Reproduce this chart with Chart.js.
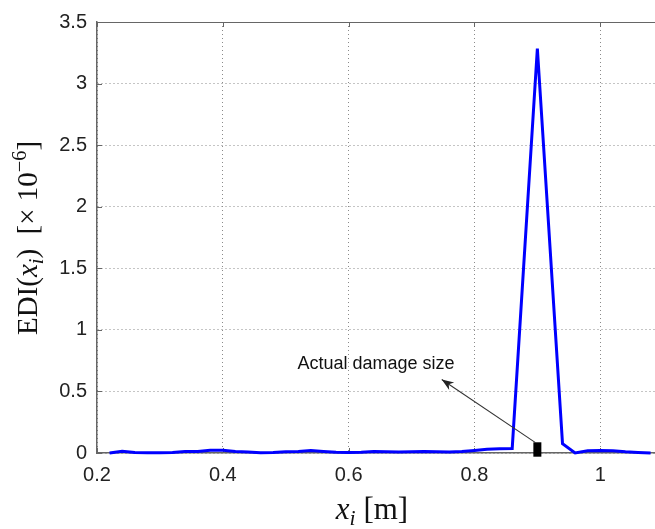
<!DOCTYPE html>
<html>
<head>
<meta charset="utf-8">
<script src="https://cdn.jsdelivr.net/npm/chart.js@4.4.1/dist/chart.umd.min.js"></script>
<style>
  html, body { margin: 0; padding: 0; background: #fff; }
  #wrap { width: 655px; height: 529px; }
</style>
</head>
<body>
<div id="wrap"><canvas id="graf" width="655" height="529"></canvas></div>
<script>
// --- DATOS ---
const posX = [0.22, 0.24, 0.26, 0.28, 0.30, 0.32, 0.34, 0.36, 0.38, 0.40,
              0.42, 0.44, 0.46, 0.48, 0.50, 0.52, 0.54, 0.56, 0.58, 0.60,
              0.62, 0.64, 0.66, 0.68, 0.70, 0.72, 0.74, 0.76, 0.78, 0.80,
              0.82, 0.84, 0.86, 0.90, 0.94, 0.96, 0.98, 1.00, 1.02, 1.04,
              1.06, 1.08];
const ediVal = [0.000, 0.015, 0.005, 0.003, 0.003, 0.005, 0.012, 0.012, 0.022, 0.022,
                0.012, 0.008, 0.003, 0.004, 0.010, 0.012, 0.020, 0.012, 0.006, 0.005,
                0.006, 0.012, 0.010, 0.008, 0.010, 0.012, 0.010, 0.008, 0.012, 0.020,
                0.030, 0.035, 0.036, 3.285, 0.075, 0.000, 0.018, 0.020, 0.018, 0.010,
                0.005, 0.000];

// marcador del dano real
const damageX = [0.9, 0.9];
const damageY = [-0.03, 0.087];

// anotacion (coordenadas en datos)
const annText = "Actual damage size";
const annTextPos = [0.6436, 0.725];
const arrowTail = [0.897, 0.084];
const arrowHead = [0.748, 0.597];

// ticks
const xTicks = [0.2, 0.4, 0.6, 0.8, 1.0];
const xTickLabels = ["0.2", "0.4", "0.6", "0.8", "1"];
const yTicks = [0, 0.5, 1, 1.5, 2, 2.5, 3, 3.5];
const yTickLabels = ["0", "0.5", "1", "1.5", "2", "2.5", "3", "3.5"];

const xMin = 0.2, xMax = 1.087;
const yMin = 0, yMax = 3.5;

// --- PLUGIN: caja, ticks interiores, titulos y anotacion ---
const extras = {
    id: "extras",
    beforeDatasetsDraw(chart) {
        const { ctx, chartArea: a, scales } = chart;
        ctx.save();
        ctx.strokeStyle = "#666";
        ctx.lineWidth = 1;
        ctx.beginPath();
        ctx.moveTo(a.left, a.top + 0.5);
        ctx.lineTo(a.right, a.top + 0.5);
        // ticks interiores
        const tl = 5;
        xTicks.forEach(v => {
            const px = Math.round(scales.x.getPixelForValue(v)) + 0.5;
            ctx.moveTo(px, a.bottom); ctx.lineTo(px, a.bottom - tl);
            ctx.moveTo(px, a.top); ctx.lineTo(px, a.top + tl);
        });
        yTicks.forEach(v => {
            const py = Math.round(scales.y.getPixelForValue(v)) + 0.5;
            ctx.moveTo(a.left, py); ctx.lineTo(a.left + tl, py);
        });
        ctx.stroke();
        ctx.restore();
    },
    afterDraw(chart) {
        const { ctx, scales } = chart;
        const sx = scales.x, sy = scales.y;
        ctx.save();

        // flecha
        const x1 = sx.getPixelForValue(arrowTail[0]), y1 = sy.getPixelForValue(arrowTail[1]);
        const x2 = sx.getPixelForValue(arrowHead[0]), y2 = sy.getPixelForValue(arrowHead[1]);
        ctx.strokeStyle = "#333";
        ctx.fillStyle = "#222";
        ctx.lineWidth = 1.1;
        ctx.beginPath();
        ctx.moveTo(x1, y1);
        ctx.lineTo(x2, y2);
        ctx.stroke();
        const ang = Math.atan2(y2 - y1, x2 - x1);
        const hl = 12, hw = 4.5;
        ctx.beginPath();
        ctx.moveTo(x2, y2);
        ctx.lineTo(x2 - hl * Math.cos(ang) + hw * Math.sin(ang), y2 - hl * Math.sin(ang) - hw * Math.cos(ang));
        ctx.lineTo(x2 - hl * 0.7 * Math.cos(ang), y2 - hl * 0.7 * Math.sin(ang));
        ctx.lineTo(x2 - hl * Math.cos(ang) - hw * Math.sin(ang), y2 - hl * Math.sin(ang) + hw * Math.cos(ang));
        ctx.closePath();
        ctx.fill();

        // texto anotacion
        ctx.fillStyle = "#111";
        ctx.font = "18px 'Liberation Sans', Arial, sans-serif";
        ctx.textAlign = "center";
        ctx.textBaseline = "middle";
        ctx.fillText(annText, sx.getPixelForValue(annTextPos[0]), sy.getPixelForValue(annTextPos[1]));

        // titulos con sub/superindices
        function drawRich(parts, size) {
            let w = 0;
            parts.forEach(p => {
                ctx.font = (p.it ? "italic " : "") + (p.s || 1) * size + "px 'Liberation Serif', 'Times New Roman', serif";
                p.w = ctx.measureText(p.t).width;
                w += p.w;
            });
            let x = -w / 2;
            parts.forEach(p => {
                ctx.font = (p.it ? "italic " : "") + (p.s || 1) * size + "px 'Liberation Serif', 'Times New Roman', serif";
                ctx.fillText(p.t, x, p.dy || 0);
                x += p.w;
            });
        }
        ctx.fillStyle = "#111";
        ctx.textAlign = "left";
        ctx.textBaseline = "alphabetic";

        // eje x
        ctx.save();
        ctx.translate(372, 519);
        drawRich([
            { t: "x", it: true },
            { t: "i", it: true, s: 0.7, dy: 6 },
            { t: " [m]" }
        ], 31);
        ctx.restore();

        // eje y
        ctx.save();
        ctx.translate(37, 238);
        ctx.rotate(-Math.PI / 2);
        drawRich([
            { t: "EDI(" },
            { t: "x", it: true },
            { t: "i", it: true, s: 0.7, dy: 6 },
            { t: ")  [× 10" },
            { t: "−6", s: 0.7, dy: -11 },
            { t: "]" }
        ], 29);
        ctx.restore();

        ctx.restore();
    }
};

new Chart(document.getElementById("graf"), {
    type: "scatter",
    data: {
        datasets: [{
            label: "EDI",
            data: posX.map((x, i) => ({ x: x, y: ediVal[i] })),
            showLine: true,
            borderColor: "#0000ff",
            borderWidth: 3,
            pointRadius: 0,
            tension: 0,
            clip: false
        }, {
            label: "damage",
            data: damageX.map((x, i) => ({ x: x, y: damageY[i] })),
            showLine: true,
            borderColor: "#000",
            borderWidth: 8,
            borderCapStyle: "butt",
            pointRadius: 0,
            clip: false
        }]
    },
    options: {
        responsive: false,
        animation: false,
        layout: { padding: { top: 15, right: 0, left: 0, bottom: 0 } },
        plugins: {
            legend: { display: false },
            tooltip: { enabled: false }
        },
        scales: {
            x: {
                type: "linear",
                min: xMin,
                max: xMax,
                afterBuildTicks: s => { s.ticks = xTicks.map(v => ({ value: v })); },
                afterFit: s => { s.height = 76; },
                ticks: {
                    padding: 10,
                    color: "#222",
                    font: { family: "'Liberation Sans', Arial, sans-serif", size: 20 },
                    callback: v => xTickLabels[xTicks.findIndex(t => Math.abs(t - v) < 1e-6)]
                },
                grid: { color: "#8a8a8a", lineWidth: 1, drawTicks: false },
                border: { display: true, color: "#666", width: 1.5, dash: [1, 3] }
            },
            y: {
                type: "linear",
                min: yMin,
                max: yMax,
                afterBuildTicks: s => { s.ticks = yTicks.map(v => ({ value: v })); },
                afterFit: s => { s.width = 97; },
                ticks: {
                    padding: 10,
                    color: "#222",
                    font: { family: "'Liberation Sans', Arial, sans-serif", size: 20 },
                    callback: v => yTickLabels[yTicks.findIndex(t => Math.abs(t - v) < 1e-6)]
                },
                grid: { color: "#8a8a8a", lineWidth: 1, drawTicks: false },
                border: { display: true, color: "#666", width: 1.5, dash: [1, 3] }
            }
        }
    },
    plugins: [extras]
});
</script>
</body>
</html>
